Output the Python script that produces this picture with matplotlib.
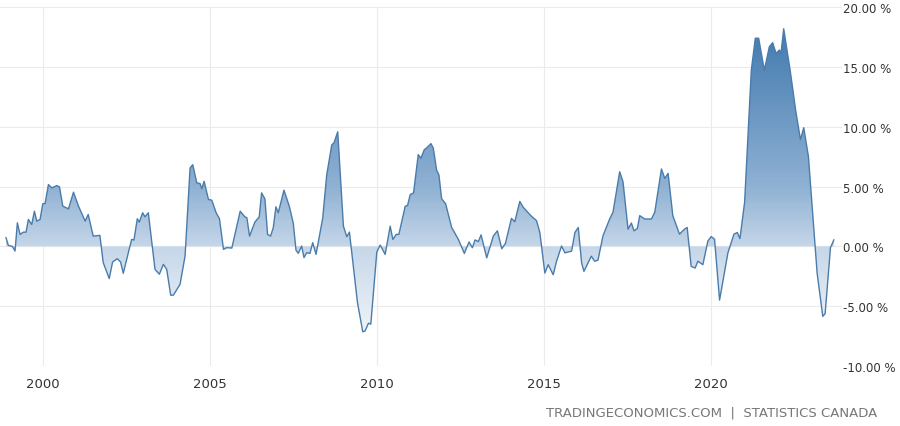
import numpy as np
import matplotlib.pyplot as plt
from matplotlib.colors import LinearSegmentedColormap

# (decimal year, % change)
years = [1998.89, 1998.96, 1999.08, 1999.16, 1999.23, 1999.31, 1999.41, 1999.49, 1999.56, 1999.66,
         1999.74, 1999.81, 1999.91, 1999.99, 2000.06, 2000.16, 2000.26, 2000.41, 2000.49, 2000.59,
         2000.76, 2000.91, 2001.06, 2001.26, 2001.35, 2001.50, 2001.70, 2001.80, 2001.98, 2002.08,
         2002.22, 2002.32, 2002.40, 2002.65, 2002.72, 2002.82, 2002.88, 2002.98, 2003.05, 2003.15,
         2003.35, 2003.48, 2003.60, 2003.70, 2003.82, 2003.90, 2004.10, 2004.25, 2004.40, 2004.48,
         2004.60, 2004.70, 2004.75, 2004.82, 2004.95, 2005.05, 2005.18, 2005.28, 2005.40, 2005.50,
         2005.65, 2005.90, 2006.04, 2006.10, 2006.18, 2006.34, 2006.47, 2006.54, 2006.64, 2006.72,
         2006.81, 2006.89, 2006.97, 2007.04, 2007.21, 2007.37, 2007.49, 2007.57, 2007.64, 2007.74,
         2007.81, 2007.89, 2007.99, 2008.07, 2008.17, 2008.37, 2008.49, 2008.64, 2008.71, 2008.82,
         2008.99, 2009.09, 2009.17, 2009.41, 2009.57, 2009.64, 2009.74, 2009.81, 2009.99, 2010.09,
         2010.24, 2010.39, 2010.47, 2010.57, 2010.65, 2010.84, 2010.91, 2010.99, 2011.09, 2011.23,
         2011.31, 2011.41, 2011.48, 2011.61, 2011.68, 2011.78, 2011.85, 2011.93, 2012.05, 2012.23,
         2012.43, 2012.61, 2012.75, 2012.85, 2012.93, 2013.03, 2013.11, 2013.28, 2013.48, 2013.60,
         2013.73, 2013.84, 2014.02, 2014.12, 2014.27, 2014.37, 2014.60, 2014.77, 2014.87, 2015.02,
         2015.12, 2015.27, 2015.37, 2015.52, 2015.62, 2015.82, 2015.92, 2016.02, 2016.12, 2016.19,
         2016.41, 2016.51, 2016.61, 2016.76, 2016.96, 2017.06, 2017.26, 2017.36, 2017.51, 2017.61,
         2017.69, 2017.79, 2017.86, 2018.01, 2018.21, 2018.31, 2018.51, 2018.61, 2018.71, 2018.85,
         2019.05, 2019.20, 2019.28, 2019.40, 2019.52, 2019.60, 2019.75, 2019.90, 2020.00, 2020.10,
         2020.25, 2020.40, 2020.50, 2020.68, 2020.78, 2020.86, 2021.00, 2021.20, 2021.32, 2021.42,
         2021.59, 2021.74, 2021.84, 2021.94, 2022.04, 2022.09, 2022.17, 2022.37, 2022.53, 2022.67,
         2022.77, 2022.91, 2023.17, 2023.34, 2023.41, 2023.57, 2023.67]
values = [0.72, 0.08, 0.0, -0.39, 1.97, 1.0, 1.19, 1.19, 2.25, 1.83,
          2.94, 2.11, 2.25, 3.56, 3.58, 5.17, 4.89, 5.08, 4.97, 3.36,
          3.14, 4.53, 3.36, 2.11, 2.67, 0.86, 0.92, -1.36, -2.69, -1.31,
          -1.03, -1.31, -2.25, 0.58, 0.53, 2.31, 2.03, 2.81, 2.47, 2.81,
          -1.92, -2.33, -1.5, -1.92, -4.08, -4.08, -3.17, -0.81, 6.56, 6.83,
          5.31, 5.25, 4.81, 5.44, 3.92, 3.86, 2.81, 2.31, -0.25, -0.11,
          -0.14, 2.94, 2.47, 2.39, 0.86, 2.03, 2.47, 4.47, 3.97, 1.0,
          0.86, 1.56, 3.31, 2.81, 4.70, 3.36, 1.92, -0.31, -0.58, 0.03,
          -0.94, -0.53, -0.58, 0.31, -0.67, 2.36, 5.97, 8.47, 8.67, 9.58,
          1.69, 0.81, 1.19, -4.69, -7.14, -7.06, -6.42, -6.5, -0.47, 0.11,
          -0.67, 1.69, 0.58, 1.0, 1.0, 3.36, 3.42, 4.33, 4.47, 7.67,
          7.37, 8.08, 8.22, 8.59, 8.22, 6.38, 5.96, 3.98, 3.56, 1.58,
          0.59, -0.59, 0.37, -0.11, 0.54, 0.40, 0.96, -0.96, 0.88, 1.30,
          -0.20, 0.25, 2.34, 2.06, 3.76, 3.28, 2.57, 2.15, 1.16, -2.23,
          -1.53, -2.37, -1.24, 0.03, -0.54, -0.40, 1.16, 1.58, -1.38, -2.09,
          -0.82, -1.24, -1.16, 0.88, 2.29, 2.85, 6.24, 5.40, 1.44, 1.95,
          1.30, 1.50, 2.57, 2.29, 2.29, 2.85, 6.47, 5.68, 6.10, 2.57,
          1.02, 1.44, 1.58, -1.67, -1.81, -1.24, -1.53, 0.45, 0.82, 0.59,
          -4.49, -2.09, -0.54, 1.02, 1.16, 0.65, 3.70, 14.72, 17.40, 17.40,
          14.72, 16.69, 17.03, 16.13, 16.41, 16.19, 18.19, 14.58, 11.33, 8.93,
          9.92, 7.51, -2.23, -5.85, -5.62, -0.11, 0.54]
yticks = [-10, -5, 0, 5, 10, 15, 20]
xticks = [2000, 2005, 2010, 2015, 2020]

x = np.array(years)
y = np.array(values)

fig = plt.figure(figsize=(9, 4.27), dpi=100)
ax = fig.add_axes([0.0, 0.1405, 0.935, 0.8405])
ax.set_xlim(1998.71, 2023.9)
ax.set_ylim(-10, 20)

# gradient fill clipped to area between curve and zero
cmap = LinearSegmentedColormap.from_list(
    "g", [(0.0, "#ffffff"), (0.33, "#c6d7e9"), (0.5, "#8fb1d3"), (0.9, "#4a7fb3"), (1.0, "#4a7fb3")])
grad = np.linspace(-10, 20, 300).reshape(-1, 1)
poly = ax.fill_between(x, y, 0, color="none", lw=0)
img = ax.imshow(grad, cmap=cmap, vmin=-10, vmax=20, origin="lower", aspect="auto",
                extent=[1998.71, 2023.9, -10, 20], zorder=1)
path = poly.get_paths()[0]
img.set_clip_path(path, transform=ax.transData)

ax.plot(x, y, color="#4a7cab", lw=1.0, zorder=3)

ax.set_yticks(yticks)
ax.set_yticklabels([f"{v:.2f} %" for v in yticks])
ax.set_xticks(xticks)
ax.yaxis.tick_right()
ax.tick_params(axis="y", length=0, labelsize=8.5, colors="#333333", pad=1)
ax.tick_params(axis="x", length=0, labelsize=9.5, colors="#333333", pad=8)
ax.grid(True, color="#ebebeb", lw=0.8)
ax.set_axisbelow(True)
for s in ax.spines.values():
    s.set_visible(False)

fig.text(0.975, 0.025, "TRADINGECONOMICS.COM  |  STATISTICS CANADA", ha="right",
         fontsize=9.5, color="#777777")

fig.savefig("out.png", dpi=100)
